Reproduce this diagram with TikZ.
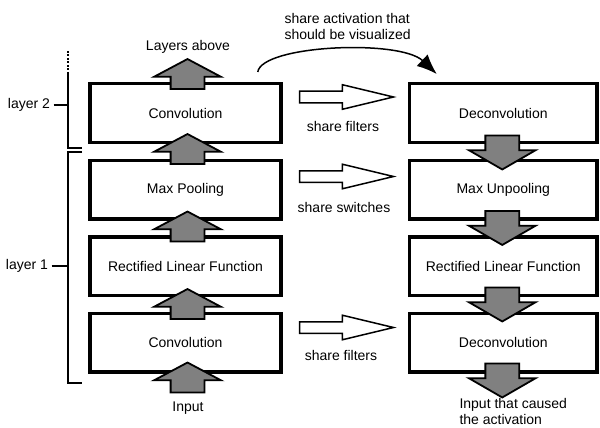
\documentclass[tikz,border=0pt]{standalone}
\usepackage{fontspec}
\setmainfont{Liberation Sans}
\usetikzlibrary{positioning,calc,shapes.arrows,arrows.meta}
\newcommand{\figfont}{\fontsize{14}{16}\selectfont}
\tikzset{
  stage/.style={draw, line width=3.5pt, minimum width=191pt, minimum height=58.5pt, inner sep=0pt},
  flowup/.style={single arrow, draw, line width=1.8pt, fill=gray, inner xsep=16pt, inner ysep=0pt, minimum height=30pt, single arrow head extend=16.5pt, single arrow tip angle=124, shape border rotate=90, anchor=tip},
  flowdown/.style={flowup, minimum height=34pt, single arrow tip angle=120, shape border rotate=270},
  sharearrow/.style={single arrow, draw, line width=1.5pt, fill=white, inner xsep=0pt, inner ysep=5pt, minimum height=94pt, single arrow head extend=6.5pt, single arrow tip angle=27, anchor=tail},
  bracket/.style={line width=1.8pt},
}
\begin{document}
\begin{tikzpicture}[x=1pt, y=-1pt, font=\figfont]
\clip (0,0) rectangle (600,428);
% forward pass
\node[stage] (conv2) at (185.5,113) {Convolution};
\node[stage, below=14.5pt of conv2] (pool1) {Max Pooling};
\node[stage, below=14.5pt of pool1] (relu1) {Rectified Linear Function};
\node[stage, below=14.5pt of relu1] (conv1) {Convolution};
% backward pass
\node[stage, minimum width=187.5pt, right=125pt of conv2] (deconv2) {Deconvolution};
\node[stage, minimum width=187.5pt, below=14.5pt of deconv2] (unpool1) {Max Unpooling};
\node[stage, minimum width=187.5pt, below=14.5pt of unpool1] (rerelu1) {Rectified Linear Function};
\node[stage, minimum width=187.5pt, below=14.5pt of rerelu1] (deconv1) {Deconvolution};
% gray flow arrows
\node[flowup] (upout) at ($(conv2.north)+(2,-24)$) {};
\node[flowup] (up21) at ($(conv2.south)+(2,-11)$) {};
\node[flowup] (up11) at ($(pool1.south)+(2,-10)$) {};
\node[flowup] (up01) at ($(relu1.south)+(2,-9)$) {};
\node[flowup] (upin) at ($(conv1.south)+(2,-12)$) {};
\node[flowdown] (dn21) at ($(unpool1.north)+(-1,12)$) {};
\node[flowdown] (dn11) at ($(rerelu1.north)+(-1,11)$) {};
\node[flowdown] (dn01) at ($(deconv1.north)+(-1,11)$) {};
\node[flowdown] (dnout) at ($(deconv1.south)+(-1,25)$) {};
% sharing arrows
\node[sharearrow] (sf2) at ($(conv2.east)+(16,-16)$) {};
\node[sharearrow] (ss1) at ($(pool1.east)+(16,-13)$) {};
\node[sharearrow] (sf1) at ($(conv1.east)+(16,-15)$) {};
\node (sflbl2) at (343,126) {share filters};
\node (sslbl1) at (344,207) {share switches};
\node (sflbl1) at (341,355) {share filters};
\node (lyrabove) at (188,47) {Layers above};
\node (input) at (188,408) {Input};
\node[align=left, anchor=west] (actlbl) at (281,26) {share activation that\\should be visualized};
\node[align=left, anchor=west] (inlbl) at (456,411) {Input that caused\\the activation};
% activation arrow
\coordinate (actsrc) at ($(conv2.north east)+(-25,-10)$);
\coordinate (acttip) at ($(deconv2.north west)+(29,-8)$);
\draw[line width=1.5pt, -{Latex[length=20pt,width=16pt]}] (actsrc) .. controls +(4,-27) and +(-37,-35) .. (acttip);
% layer brackets
\node (lay2) at (29,105) {layer 2};
\node (lay1) at (27,266) {layer 1};
\coordinate (br2) at (68,105);
\coordinate (br1) at (68,266);
\draw[bracket, dash pattern=on 2pt off 1.5pt] (68,51) -- (68,72);
\draw[bracket] (68,72) -- (68,148) -- (82,148);
\draw[bracket] (82,152) -- (68,152) -- (68,383) -- (82,383);
\draw[bracket] (lay2.east) -- (br2);
\draw[bracket] (lay1.east) -- (br1);
\end{tikzpicture}
\end{document}
